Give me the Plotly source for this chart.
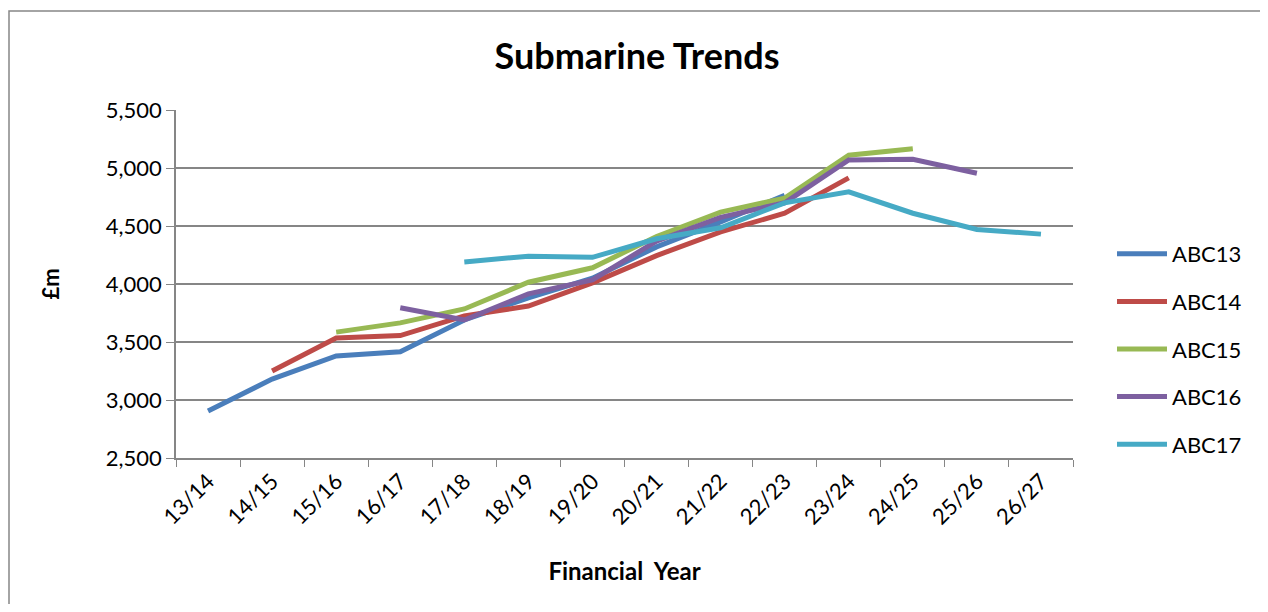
import plotly.graph_objects as go

categories = ["13/14", "14/15", "15/16", "16/17", "17/18", "18/19", "19/20",
              "20/21", "21/22", "22/23", "23/24", "24/25", "25/26", "26/27"]
abc13 = [2905, 3180, 3380, 3415, 3690, 3880, 4050, 4320, 4535, 4765,
         None, None, None, None]
abc14 = [None, 3250, 3535, 3555, 3725, 3810, 4010, 4245, 4450, 4610, 4915,
         None, None, None]
abc15 = [None, None, 3585, 3665, 3785, 4015, 4140, 4410, 4620, 4740, 5110,
         5165, None, None]
abc16 = [None, None, None, 3795, 3690, 3915, 4035, 4370, 4575, 4700, 5070,
         5075, 4955, None]
abc17 = [None, None, None, None, 4190, 4240, 4230, 4390, 4485, 4700, 4795,
         4610, 4470, 4430]
series_names = ["ABC13", "ABC14", "ABC15", "ABC16", "ABC17"]
series_values = [abc13, abc14, abc15, abc16, abc17]
colors = ["#4A7EBB", "#BE4B48", "#98B954", "#7D60A0", "#46AAC5"]

FONT = "Lato, 'Open Sans', sans-serif"

# page body has an 8px margin; work in reference-window pixels and convert
OFF = 8
FIG_W, FIG_H = 1268 - 2 * OFF, 612 - 2 * OFF
PL, PR, PT, PB = 176, 1073, 110, 458  # plot area in window pixels
L = PL - OFF
R = FIG_W - (PR - OFF)
T = PT - OFF
B = FIG_H - (PB - OFF)
W, H = PR - PL, PB - PT


def px_x(p):
    return (p - PL) / W


def px_y(p):
    return (PB - p) / H


fig = go.Figure()
for name, vals, col in zip(series_names, series_values, colors):
    fig.add_trace(go.Scatter(
        x=categories, y=vals, name=name, mode="lines",
        line=dict(color=col, width=5), connectgaps=False,
        legendgroup=name,
    ))

fig.update_layout(
    width=FIG_W, height=FIG_H,
    margin=dict(l=L, r=R, t=T, b=B, pad=0),
    paper_bgcolor="white", plot_bgcolor="white",
    font=dict(family=FONT, size=22, color="black"),
    title=dict(text="<b>Submarine Trends</b>", xref="container",
               x=(637 - OFF) / FIG_W, xanchor="center",
               y=1 - (56 - OFF) / FIG_H, yanchor="middle",
               font=dict(size=36, family=FONT, color="black")),
    showlegend=True,
    legend=dict(x=px_x(1112), xanchor="left", y=px_y(349), yanchor="middle",
                traceorder="grouped", tracegroupgap=16, itemwidth=50,
                font=dict(size=22, family=FONT, color="black"),
                bgcolor="rgba(0,0,0,0)"),
    xaxis=dict(
        type="category", tickson="boundaries", showgrid=False,
        ticks="outside", ticklen=7, tickcolor="#868686", tickwidth=1,
        showline=True, linecolor="#868686", linewidth=1.5,
        tickangle=-45, tickfont=dict(size=22, family=FONT),
        title=dict(text="<b>Financial  Year</b>", standoff=35,
                   font=dict(size=24, family=FONT)),
        range=[-0.5, 13.5],
    ),
    yaxis=dict(
        range=[2500, 5500], dtick=500, tickformat=",",
        showgrid=True, gridcolor="#868686", gridwidth=1.5,
        ticks="outside", ticklen=8, tickcolor="#868686",
        showline=True, linecolor="#868686", linewidth=1.5,
        zeroline=False, tickfont=dict(size=22, family=FONT),
        title=dict(text="<b>£m</b>", standoff=40,
                   font=dict(size=22, family=FONT)),
    ),
    shapes=[dict(type="rect", xref="paper", yref="paper",
                 x0=px_x(9), x1=px_x(1262), y0=px_y(660), y1=px_y(11),
                 line=dict(color="#868686", width=1.5), layer="below")],
)

fig.write_html("out.html")
